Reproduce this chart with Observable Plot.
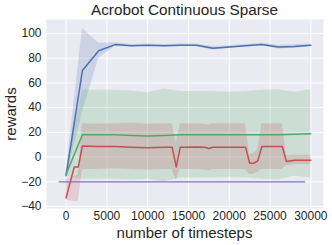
<!DOCTYPE html>
<html>
<head>
<meta charset="utf-8">
<script src="https://cdn.jsdelivr.net/npm/d3@7"></script>
<script src="https://cdn.jsdelivr.net/npm/@observablehq/plot@0.6"></script>
<style>
  body { margin: 0; background: #fff; font-family: "Liberation Sans", Arial, sans-serif; color: #262626; }
  #wrap { position: relative; width: 332px; height: 245px; }
  #title { width: 332px; height: 19px; line-height: 20px; font-size: 15.3px; text-align: center; padding-left: 37px; box-sizing: border-box; white-space: nowrap; }
  #xlabel { position: absolute; left: 46px; width: 277px; top: 225px; height: 16px; line-height: 16px; font-size: 15px; text-align: center; white-space: nowrap; }
  #ylabel { position: absolute; left: 10px; top: 113.5px; font-size: 15px; line-height: 15px; white-space: nowrap; transform: translate(-50%, -50%) rotate(-90deg); }
  #chart svg { display: block; }
</style>
</head>
<body>
<div id="wrap">
<div id="title">Acrobot Continuous Sparse</div>
<div id="chart"></div>
<div id="xlabel">number of timesteps</div>
<div id="ylabel">rewards</div>
</div>
<script>
// ---- data ----
const xTicks = [0, 5000, 10000, 15000, 20000, 25000, 30000];
const yTicks = [-40, -20, 0, 20, 40, 60, 80, 100];

const blueX = [0, 2000, 4000, 6000, 8000, 10000, 12000, 14000, 16000, 18000, 20000, 22000, 24000, 26000, 28000, 30000];
const blueMean = [-15, 70, 86, 91, 90, 90.5, 90, 90.5, 90.5, 88, 89, 90, 91, 89, 89.5, 90.5];
const blueLow  = [-17, 36, 80, 89.5, 89, 89.5, 89, 89.5, 89.5, 86.5, 88, 89, 90, 87.5, 88, 89.5];
const blueHigh = [-13, 104, 92, 92.5, 91, 91.5, 91, 91.5, 91.5, 89.5, 90, 91, 92, 90.5, 91, 91.5];

const greenX = [0, 2000, 4000, 6000, 8000, 10000, 12000, 14000, 16000, 18000, 20000, 22000, 24000, 26000, 28000, 30000];
const greenMean = [-14, 18, 18, 18, 17.5, 17, 17.5, 18, 18, 18, 18, 18, 18, 18, 18.5, 18.8];
const greenLow  = [-16, -18, -18, -18, -18.5, -18, -20, -17, -17, -17, -16.5, -17, -18, -18.5, -15.5, -17];
const greenHigh = [-12, 54, 54, 54, 53.5, 52, 55, 53, 53, 53, 52.5, 53, 54, 54.5, 52.5, 54.5];

const redX = [0, 1000, 1500, 2000, 4000, 6000, 8000, 10000, 12000, 13000, 13500, 14000, 16000, 17000, 17500, 18000, 20000, 22000, 22500, 23000, 23500, 24000, 26000, 26500, 27000, 28000, 30000];
const redMean = [-33, -8, -8, 9, 8.5, 8.5, 8, 7.5, 8, 8, -8, 8, 8.2, 8, 7, 8, 8, 8, -5, -5, -3, 8.5, 8.5, 8.5, -3.5, -2.5, -2.5];
const redLow  = [-35, -36, -36, -10, -10, -9.5, -10, -10.5, -10, -10, -19, -10, -10, -10.5, -11, -10, -10, -10, -14, -14, -12, -10, -10, -10, -7, -6, -6];
const redHigh = [-18, -16, -14, 27, 26.5, 27, 27.5, 26.5, 27, 27, 11, 27, 27, 26.5, 26, 27, 27, 27, 2, 3, 6, 27, 27, 27, 1, 1.5, 1.5];

const purpleX = [-850, 29250];
const purpleMean = [-20, -20];

const series = [
  {name: "blue", color: "#4C72B0", x: blueX, mean: blueMean, low: blueLow, high: blueHigh},
  {name: "green", color: "#55A868", x: greenX, mean: greenMean, low: greenLow, high: greenHigh},
  {name: "red", color: "#C44E52", x: redX, mean: redMean, low: redLow, high: redHigh},
  {name: "purple", color: "#8172B2", x: purpleX, mean: purpleMean, low: null, high: null}
];

const rows = s => s.x.map((x, i) => ({x, mean: s.mean[i], low: s.low ? s.low[i] : null, high: s.high ? s.high[i] : null}));

const bandMarks = series.filter(s => s.low).map(s =>
  Plot.areaY(rows(s), {x: "x", y1: "low", y2: "high", fill: s.color, fillOpacity: 0.2}));
const lineMarks = series.map(s =>
  Plot.line(rows(s), {x: "x", y: "mean", stroke: s.color, strokeWidth: s.low ? 1.5 : 1.3}));

const chart = Plot.plot({
  width: 332,
  height: 226,
  marginLeft: 46,
  marginRight: 9,
  marginTop: 0,
  marginBottom: 37,
  style: {fontFamily: "'Liberation Sans', Arial, sans-serif", fontSize: "12px", color: "#262626", background: "transparent"},
  x: {domain: [-2400, 31550], ticks: xTicks, tickSize: 0, tickPadding: 3, tickFormat: d3.format("d"), label: null},
  y: {domain: [-41.6, 111.3], ticks: yTicks, tickSize: 0, tickPadding: 5, tickFormat: d3.format("d"), label: null},
  marks: [
    Plot.frame({fill: "#EAEAF2", stroke: "none"}),
    Plot.ruleX(xTicks, {stroke: "white", strokeWidth: 1}),
    Plot.ruleY(yTicks, {stroke: "white", strokeWidth: 1}),
    ...bandMarks,
    ...lineMarks
  ]
});
document.getElementById("chart").appendChild(chart);
</script>
</body>
</html>
